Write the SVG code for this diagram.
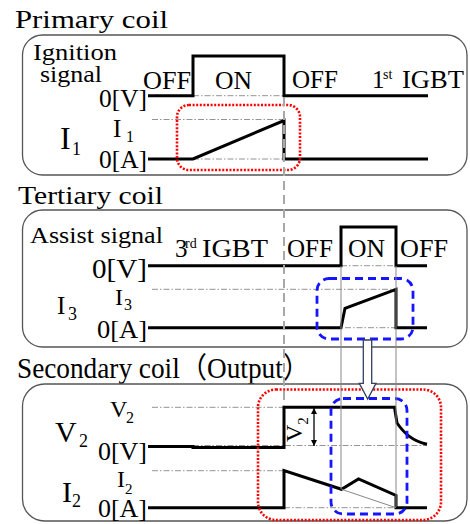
<svg xmlns="http://www.w3.org/2000/svg" width="470" height="524" viewBox="0 0 470 524">
<style>
text{font-family:"Liberation Serif","Noto Sans CJK JP",serif;fill:#000;}
.box{fill:none;stroke:#555;stroke-width:1.3;}
.sig{fill:none;stroke:#000;stroke-width:3;stroke-linejoin:miter;}
.ref{fill:none;stroke:#777;stroke-width:0.8;stroke-dasharray:6 2 1.5 2;}
.thin{fill:none;stroke:#888;stroke-width:1;}
.red{fill:none;stroke:#f00;stroke-width:2.6;stroke-dasharray:2 1.6;}
.blue{fill:none;stroke:#1515ff;stroke-width:2.8;stroke-dasharray:8 5;}
.gdash{fill:none;stroke:#a8a8a8;stroke-width:2;stroke-dasharray:9 5;}
</style>
<defs>
<marker id="ah" viewBox="0 0 10 10" refX="10" refY="5" markerWidth="6" markerHeight="6" orient="auto-start-reverse" markerUnits="userSpaceOnUse">
<path d="M0,0 L10,5 L0,10 Z" fill="#000"/>
</marker>
</defs>

<g id="primary">
<text x="15" y="28" font-size="26" textLength="153" lengthAdjust="spacingAndGlyphs">Primary coil</text>
<rect class="box" x="22.5" y="35" width="444.5" height="140" rx="20"/>
<text x="33" y="59.5" font-size="24" textLength="84" lengthAdjust="spacingAndGlyphs">Ignition</text>
<text x="40" y="82" font-size="24" textLength="62" lengthAdjust="spacingAndGlyphs">signal</text>
<text x="143" y="89" font-size="25" textLength="48" lengthAdjust="spacingAndGlyphs">OFF</text>
<text x="215" y="89" font-size="25" textLength="37" lengthAdjust="spacingAndGlyphs">ON</text>
<text x="292" y="88" font-size="25" textLength="46" lengthAdjust="spacingAndGlyphs">OFF</text>
<text y="88" font-size="25"><tspan x="372">1</tspan><tspan x="383" y="79" font-size="14">st</tspan><tspan x="402" y="88" textLength="62" lengthAdjust="spacingAndGlyphs">IGBT</tspan></text>
<text x="99" y="107" font-size="26" textLength="48" lengthAdjust="spacingAndGlyphs">0[V]</text>
<text x="99" y="168" font-size="26" textLength="48" lengthAdjust="spacingAndGlyphs">0[A]</text>
<text x="113" y="137" font-size="25">I</text><text x="126" y="142" font-size="16">1</text>
<text x="60" y="149" font-size="32">I</text><text x="72" y="155" font-size="18">1</text>
<path class="ref" d="M193,95.7 H284 M152,119.5 H284 M193,159 H284"/>
<path class="sig" d="M148,95.7 H193 V56 H284 V95.7 H428"/>
<path class="sig" d="M148,159 H193 L284,120.5 V159 H428"/>
<rect class="red" x="177" y="105" width="123" height="65" rx="12"/>
</g>

<g id="tertiary">
<text x="18" y="204" font-size="25" textLength="145" lengthAdjust="spacingAndGlyphs">Tertiary coil</text>
<rect class="box" x="22.5" y="210" width="444.5" height="137" rx="20"/>
<text x="30" y="243" font-size="24" textLength="133" lengthAdjust="spacingAndGlyphs">Assist signal</text>
<text y="257" font-size="25"><tspan x="175">3</tspan><tspan x="185" y="248" font-size="14">rd</tspan><tspan x="202" y="257" textLength="66" lengthAdjust="spacingAndGlyphs">IGBT</tspan></text>
<text x="287" y="257" font-size="25" textLength="46" lengthAdjust="spacingAndGlyphs">OFF</text>
<text x="348" y="257" font-size="25" textLength="37" lengthAdjust="spacingAndGlyphs">ON</text>
<text x="400" y="257" font-size="25" textLength="48" lengthAdjust="spacingAndGlyphs">OFF</text>
<text x="92" y="277.5" font-size="27" textLength="55" lengthAdjust="spacingAndGlyphs">0[V]</text>
<text x="97" y="338" font-size="26" textLength="50" lengthAdjust="spacingAndGlyphs">0[A]</text>
<text x="115" y="305" font-size="24">I</text><text x="124" y="310" font-size="16">3</text>
<text x="57" y="314" font-size="25">I</text><text x="68" y="320" font-size="18">3</text>
<path class="ref" d="M341,265.7 H396 M152,289.3 H396 M345,327.7 H396"/>
<path class="sig" d="M148,265.7 H341 V227 H396 V265.7 H427"/>
<path class="sig" d="M148,327.7 H341 L345,308.3 L396,289.3 V327.7 H427"/>
<rect class="blue" x="317" y="278.5" width="96" height="60.5" rx="12"/>
</g>

<g id="secondary">
<text x="17" y="378" font-size="29" textLength="293" lengthAdjust="spacingAndGlyphs">Secondary coil（Output）</text>
<rect class="box" x="22.5" y="384" width="444.5" height="137" rx="22"/>
<text x="110" y="417" font-size="24">V</text><text x="126" y="423" font-size="16">2</text>
<text x="55" y="442" font-size="30">V</text><text x="79" y="447" font-size="18">2</text>
<text x="98" y="460" font-size="25" textLength="49" lengthAdjust="spacingAndGlyphs">0[V]</text>
<text x="117" y="487" font-size="24">I</text><text x="125" y="494" font-size="15">2</text>
<text x="62" y="502" font-size="30">I</text><text x="72" y="507" font-size="18">2</text>
<text x="98" y="517" font-size="25" textLength="49" lengthAdjust="spacingAndGlyphs">0[A]</text>
<path class="ref" d="M152,407.3 H284 M193,445.5 H427 M152,470.7 H284 M284,507.7 H396"/>
<path class="sig" d="M148,446.5 H193 V447.5 H284 V407.3 H394.5 L397,423 C404,433 412,441 427,444.3"/>
<path class="sig" d="M148,507.7 H284 V470.5 L341.5,489.3 L358.5,479 L396,495.5 V507.7 H427"/>
<path class="thin" d="M341.5,489.3 L396,507.7" stroke-width="0.8"/>
<text transform="translate(302,442) rotate(-90)" font-size="24">V<tspan font-size="15" dy="6">2</tspan></text>
<rect class="red" x="258" y="389.5" width="183" height="130.5" rx="18"/>
<rect class="blue" x="331" y="398.5" width="76" height="115.5" rx="12"/>
</g>

<g id="connectors">
<path class="gdash" d="M284,97 V406"/>
<path class="thin" d="M341,266 V489 M396,266 V507"/>
<line x1="314" y1="408" x2="314" y2="446" stroke="#000" stroke-width="1.3" marker-start="url(#ah)" marker-end="url(#ah)"/>
<path d="M363.3,340 H371.7 V383.3 H376 L367.7,399 L359.3,383.3 H363.3 Z" fill="#fff" stroke="#33415e" stroke-width="1.3" stroke-linejoin="miter"/>
</g>
</svg>
